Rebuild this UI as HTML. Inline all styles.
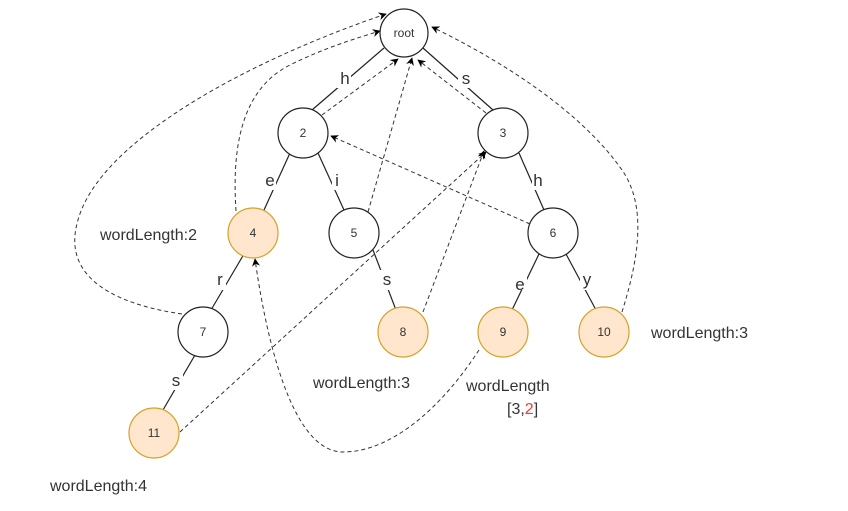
<!DOCTYPE html>
<html><head><meta charset="utf-8"><style>
html,body{margin:0;padding:0;background:#fff;width:848px;height:511px;overflow:hidden}
svg{display:block}
text{font-family:"Liberation Sans",Arial,sans-serif;fill:#333}
</style></head><body>
<svg width="848" height="511" viewBox="0 0 848 511" xmlns="http://www.w3.org/2000/svg">
<defs>
<marker id="a" viewBox="0 0 10 10" refX="9" refY="5" markerWidth="8" markerHeight="8" orient="auto" markerUnits="userSpaceOnUse">
<path d="M0,0 L10,5 L0,10 L3,5 z" fill="#000"/></marker>
</defs>
<g stroke="#222" stroke-width="1.2" fill="none">
<line x1="384" y1="48" x2="312" y2="110"/>
<line x1="423" y1="48" x2="493" y2="110"/>
<line x1="290" y1="153" x2="264" y2="210"/>
<line x1="318" y1="153" x2="344" y2="210"/>
<line x1="519" y1="153" x2="544" y2="210"/>
<line x1="244" y1="254" x2="211" y2="310"/>
<line x1="373" y1="250" x2="396" y2="310"/>
<line x1="539" y1="254" x2="512" y2="310"/>
<line x1="566" y1="254" x2="596" y2="310"/>
<line x1="195" y1="355" x2="163" y2="410"/>
</g>
<g font-size="17" text-anchor="middle">
<rect x="337" y="68" width="14" height="20" fill="#fff"/><text x="345" y="84">h</text>
<rect x="458" y="68" width="14" height="20" fill="#fff"/><text x="466" y="84">s</text>
<rect x="262" y="170" width="14" height="20" fill="#fff"/><text x="270" y="186">e</text>
<rect x="332" y="170" width="10" height="20" fill="#fff"/><text x="337" y="186">i</text>
<rect x="532" y="170" width="14" height="20" fill="#fff"/><text x="538" y="186">h</text>
<rect x="214" y="270" width="12" height="20" fill="#fff"/><text x="220" y="285">r</text>
<rect x="380" y="270" width="14" height="20" fill="#fff"/><text x="387" y="285">s</text>
<rect x="513" y="270" width="14" height="20" fill="#fff"/><text x="520" y="290">e</text>
<rect x="580" y="270" width="14" height="20" fill="#fff"/><text x="587" y="285">y</text>
<rect x="169" y="370" width="14" height="20" fill="#fff"/><text x="176" y="386">s</text>
</g>
<g stroke="#333" stroke-width="1" fill="none" stroke-dasharray="4,3" marker-end="url(#a)">
<path d="M182,314 C120,305 60,280 78,220 C100,140 250,60 386,14"/>
<path d="M236,211 C232,150 240,90 290,65 C320,50 350,40 380,31"/>
<line x1="322" y1="115" x2="398" y2="59"/>
<line x1="368" y1="212" x2="412" y2="58"/>
<line x1="486" y1="113" x2="418" y2="60"/>
<line x1="530" y1="224" x2="331" y2="136"/>
<line x1="423" y1="312" x2="484" y2="151"/>
<line x1="180" y1="432" x2="486" y2="152"/>
<path d="M479,350 C440,410 390,452 343,452 C290,452 265,330 255,259"/>
<path d="M622,312 C635,270 650,210 622,170 C580,110 500,60 432,27"/>
</g>
<g stroke-width="1.2">
<circle cx="404" cy="33" r="24" fill="#fff" stroke="#222"/>
<circle cx="303" cy="133" r="25" fill="#fff" stroke="#222"/>
<circle cx="503" cy="133" r="25" fill="#fff" stroke="#222"/>
<circle cx="253" cy="233" r="25" fill="#ffe6cc" stroke="#d6a22a"/>
<circle cx="354" cy="233" r="25" fill="#fff" stroke="#222"/>
<circle cx="553" cy="233" r="25" fill="#fff" stroke="#222"/>
<circle cx="203" cy="332" r="25" fill="#fff" stroke="#222"/>
<circle cx="403" cy="332" r="25" fill="#ffe6cc" stroke="#d6a22a"/>
<circle cx="503" cy="332" r="25" fill="#ffe6cc" stroke="#d6a22a"/>
<circle cx="604" cy="332" r="25" fill="#ffe6cc" stroke="#d6a22a"/>
<circle cx="154" cy="433" r="25" fill="#ffe6cc" stroke="#d6a22a"/>
</g>
<g font-size="12" text-anchor="middle">
<text x="404" y="37">root</text>
<text x="303" y="137">2</text>
<text x="503" y="137">3</text>
<text x="253" y="237">4</text>
<text x="354" y="237">5</text>
<text x="553" y="237">6</text>
<text x="203" y="336">7</text>
<text x="403" y="336">8</text>
<text x="503" y="336">9</text>
<text x="604" y="336">10</text>
<text x="154" y="437">11</text>
</g>
<g font-size="16">
<text x="100" y="240">wordLength:2</text>
<text x="313" y="388">wordLength:3</text>
<text x="466" y="391">wordLength</text>
<text x="507" y="414">[3,<tspan fill="#ff3333">2</tspan>]</text>
<text x="651" y="338">wordLength:3</text>
<text x="50" y="491">wordLength:4</text>
</g>
</svg>
</body></html>
